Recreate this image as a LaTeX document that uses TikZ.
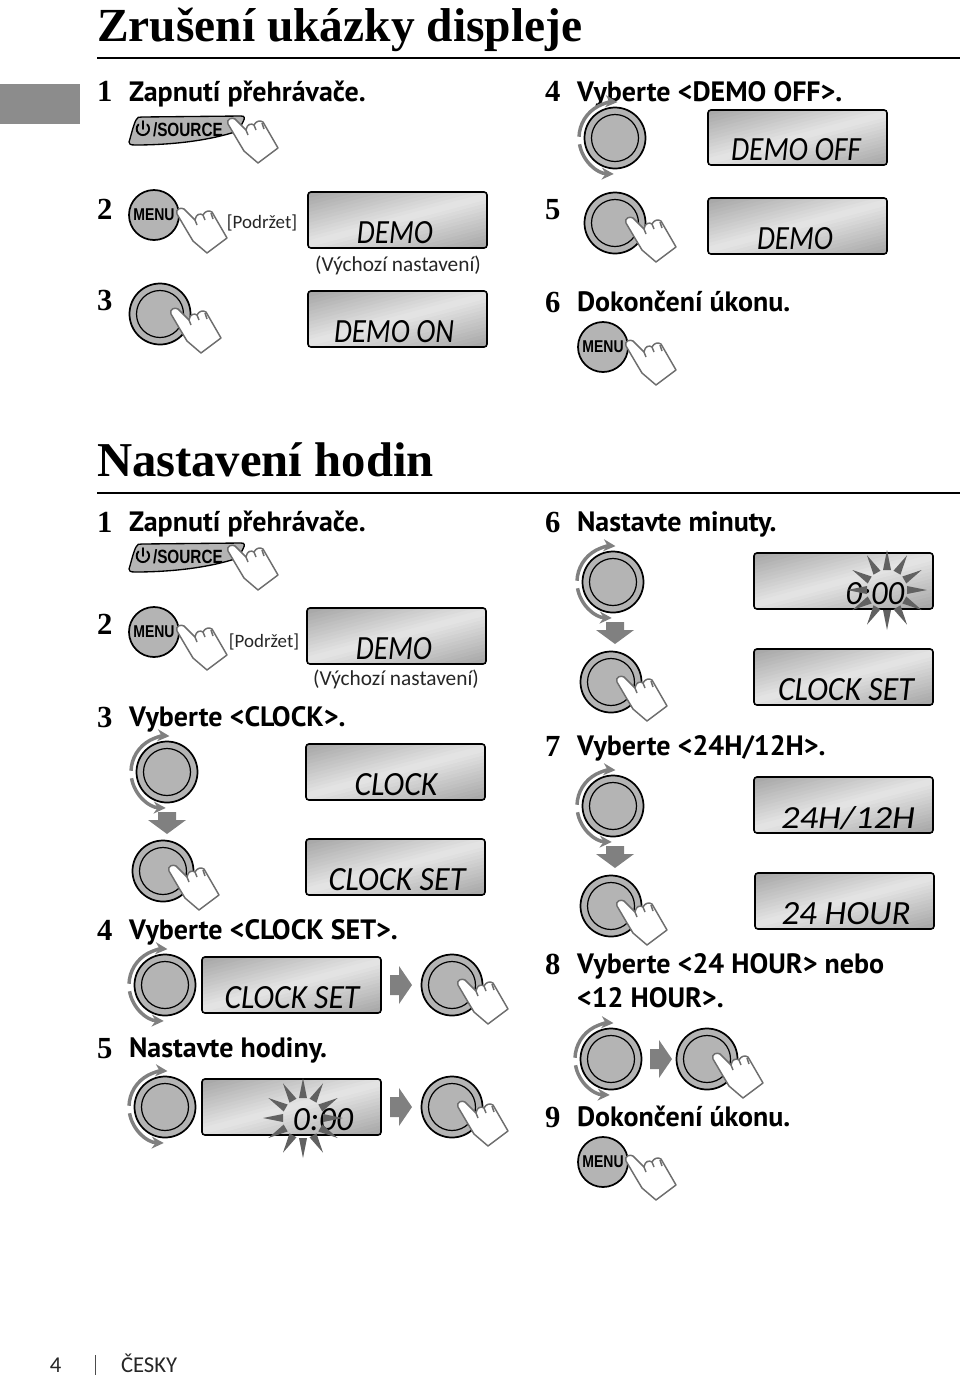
\documentclass[tikz,border=0pt]{standalone}
\usepackage{fontspec}
\usetikzlibrary{arrows.meta}
\setmainfont{Liberation Serif}
\newfontfamily\bodyfont{PT Sans}
\newfontfamily\lightfont{Carlito}
\newfontfamily\lcdfont{Carlito}
\newfontfamily\keyfont{Liberation Sans}
\definecolor{knobgray}{HTML}{B4B4B4}
\definecolor{arrgray}{HTML}{808080}
\definecolor{handgray}{HTML}{6E6E6E}
\tikzset{
  px/.style={x=.75pt,y=-.75pt},
  txt/.style={inner sep=0pt,outer sep=0pt},
  stepno/.style={txt,anchor=base west,font=\fontsize{23}{26}\selectfont\bfseries},
  body/.style={txt,anchor=base west,font=\bodyfont\fontsize{21}{24}\selectfont\bfseries},
  note/.style={txt,anchor=base,text=black!85,font=\lightfont\fontsize{16}{18}\selectfont},
  podr/.style={txt,anchor=base,text=black!85,font=\lightfont\fontsize{14.2}{18}\selectfont},
  head/.style={txt,anchor=base west,font=\fontsize{35.6}{42}\selectfont\bfseries},
  headb/.style={txt,anchor=base west,font=\fontsize{36.5}{42}\selectfont\bfseries},
  knob/.style={draw=black,line width=1.3pt,fill=knobgray},
  lcdedge/.style={draw=black,line width=1.2pt,rounded corners=2.2pt},
  hand/.style={draw=handgray,line width=1.1pt,fill=white,line join=round},
  block/.style={fill=arrgray,draw=none},
  rotarr/.style={draw=arrgray,line width=2.6pt,-{Stealth[length=9pt,width=9pt]}},
  spike/.style={fill=black!62,draw=none},
}
\newcommand{\lcdbg}[4]{%
  \begin{scope}
    \clip[rounded corners=2.2pt] (#1,#2) rectangle (#3,#4);
    \begin{scope}[shift={({(#1+#3)/2},{(#2+#4)/2})},rotate=105]
      \foreach \i in {-16,...,15}{
        \pgfmathsetmacro{\shadeval}{10+28*abs(\i+.5)/16}
        \fill[black!\shadeval] (\i*3.4,-300) rectangle (\i*3.4+3.9,300);}
      \fill[black!38] (54,-300) rectangle (120,300);
      \fill[black!38] (-54,-300) rectangle (-120,300);
    \end{scope}
  \end{scope}
  \draw[lcdedge] (#1,#2) rectangle (#3,#4);}
% display: name, x0,y0,x1,y1, cx, width, text
\newcommand{\lcd}[8]{%
  \lcdbg{#2}{#3}{#4}{#5}
  \node[txt,anchor=base] (#1) at (#6,#5-5)
    {\resizebox{\dimexpr #7pt*3/4\relax}{16.5pt}{\lcdfont\itshape #8}};}
\newcommand{\handat}[2]{%
  \begin{scope}[shift={(#1,#2)}]
    \draw[hand] (-3,4) .. controls (-5,-1) and (1,-3) .. (4,-1)
      -- (15,10) .. controls (16,4) and (20,3) .. (23,5)
      .. controls (25,1) and (29,0) .. (32,2)
      -- (47,28) -- (27,43) -- (13,31) -- (7,21) -- cycle;
    \draw[hand] (23,5) -- (25,10) (31,3) -- (33,9);
    \draw[hand] (15,10) -- (17,15);
  \end{scope}}
\newcommand{\plainknob}[2]{%
  \draw[knob] (#1,#2) circle[radius=30.5];
  \draw[draw=black,line width=.9pt] (#1,#2) circle[radius=23.5];}
\newcommand{\rotknob}[2]{%
  \plainknob{#1}{#2}
  \begin{scope}[shift={(#1,#2)}]
    \draw[rotarr] (182:36) arc[start angle=182,end angle=274,radius=36];
    \draw[rotarr] (170:36) arc[start angle=170,end angle=92,radius=36];
  \end{scope}}
\newcommand{\pressknob}[2]{%
  \plainknob{#1}{#2}
  \handat{#1+9}{#2-4}}
\newcommand{\pressknobw}[2]{%
  \plainknob{#1}{#2}
  \handat{#1+14}{#2-4}}
% name, x, y, hand
\newcommand{\menubtn}[3]{%
  \draw[knob] (#2,#3) circle[radius=25];
  \node[txt,font=\keyfont\fontsize{10.5}{12}\selectfont\bfseries] (#1) at (#2,#3) {\scalebox{1}[1.22]{MENU}};
  \handat{#2+26}{#3-5}}
\newcommand{\sourcebtn}[3]{%
  \begin{scope}[shift={(#2,#3)}]
    \draw[knob,line width=1pt] (129,142) .. controls (131,136) and (133,126) .. (136,120)
      .. controls (137,117) and (139,117) .. (142,117) -- (241,116)
      .. controls (245,116) and (245,118) .. (243,122) -- (238,131)
      .. controls (205,142) and (165,145) .. (135,145)
      .. controls (130,145) and (129,144) .. (129,142) -- cycle;
    \draw[line width=1.4pt,line cap=round] (138.5,124.5) arc[start angle=225,end angle=-45,radius=6.2];
    \draw[line width=1.4pt,line cap=round] (142.8,121) -- (142.8,129);
    \node[txt,anchor=base west,font=\keyfont\fontsize{12.5}{14}\selectfont\bfseries] (#1) at (153,136) {\scalebox{.92}[1.15]{/SOURCE}};
  \end{scope}
  \handat{231}{#3+120}}
\newcommand{\downarr}[2]{%
  \fill[block] (#1-9,#2) -- (#1+9,#2) -- (#1+9,#2+8) -- (#1+19,#2+8) -- (#1,#2+22)
    -- (#1-19,#2+8) -- (#1-9,#2+8) -- cycle;}
\newcommand{\rightarr}[2]{%
  \fill[block] (#1,#2-10) -- (#1+9,#2-10) -- (#1+9,#2-19) -- (#1+22,#2) -- (#1+9,#2+19)
    -- (#1+9,#2+10) -- (#1,#2+10) -- cycle;}
\newcommand{\burst}[2]{%
  \begin{scope}[shift={(#1,#2)}]
    \foreach \a in {0,30,...,330}{
      \fill[spike,rotate=\a] (20,-4) -- (40,0) -- (20,4) -- cycle;}
  \end{scope}}
\begin{document}
\begin{tikzpicture}[px]
\useasboundingbox (0,0) rectangle (960,1379);
\fill[black!45] (0,84) rectangle (80,124);

% --- Section 1
\node[head] (h1) at (97,41) {Zrušení ukázky displeje};
\draw[line width=2.2pt] (97,58) -- (960,58);
\node[stepno] (a1) at (97,101) {1};
\node[body] (a1t) at (129,101) {Zapnutí přehrávače.};
\sourcebtn{src1}{0}{0}
\node[stepno] (a2) at (97,219) {2};
\menubtn{menu1}{154}{215}
\node[podr] (pod1) at (262,228) {[Podržet]};
\lcd{d1}{308}{192}{487}{248}{395}{76}{DEMO}
\node[note] (def1) at (398,271) {(Výchozí nastavení)};
\node[stepno] (a3) at (97,310) {3};
\pressknobw{160}{314}
\lcd{d2}{308}{291}{487}{347}{394}{120}{DEMO ON}
\node[stepno] (a4) at (545,101) {4};
\node[body] (a4t) at (577,101) {Vyberte <DEMO OFF>.};
\rotknob{615}{138}
\lcd{d3}{708}{110}{887}{165}{796}{130}{DEMO OFF}
\node[stepno] (a5) at (545,219) {5};
\pressknobw{615}{223}
\lcd{d4}{708}{198}{887}{254}{795}{76}{DEMO}
\node[stepno] (a6) at (545,312) {6};
\node[body] (a6t) at (577,311) {Dokončení úkonu.};
\menubtn{menu2}{603}{347}

% --- Section 2
\node[headb] (h2) at (97,476) {Nastavení hodin};
\draw[line width=2.2pt] (97,493) -- (960,493);
\node[stepno] (b1) at (97,532) {1};
\node[body] (b1t) at (129,531) {Zapnutí přehrávače.};
\sourcebtn{src2}{0}{427}
\node[stepno] (b2) at (97,634) {2};
\menubtn{menu3}{154}{632}
\node[podr] (pod2) at (264,647) {[Podržet]};
\lcd{d5}{307}{608}{486}{664}{394}{76}{DEMO}
\node[note] (def2) at (396,685) {(Výchozí nastavení)};
\node[stepno] (b3) at (97,727) {3};
\node[body] (b3t) at (129,726) {Vyberte <CLOCK>.};
\rotknob{167}{772}
\lcd{d6}{306}{744}{485}{800}{396}{83}{CLOCK}
\downarr{167}{812}
\pressknob{163}{871}
\lcd{d7}{306}{839}{485}{895}{397}{137}{CLOCK SET}
\node[stepno] (b4) at (97,940) {4};
\node[body] (b4t) at (129,939) {Vyberte <CLOCK SET>.};
\rotknob{165}{985}
\lcd{d8}{202}{957}{381}{1013}{292}{135}{CLOCK SET}
\rightarr{390}{985}
\pressknob{452}{985}
\node[stepno] (b5) at (97,1058) {5};
\node[body] (b5t) at (129,1057) {Nastavte hodiny.};
\rotknob{165}{1107}
\lcdbg{202}{1079}{381}{1135}
\node[txt,anchor=base] (d9) at (323,1130) {\resizebox{45pt}{16.5pt}{\lcdfont\itshape 0:00}};
\burst{303}{1118}
\rightarr{390}{1107}
\pressknob{452}{1107}

\node[stepno] (c6) at (545,532) {6};
\node[body] (c6t) at (577,531) {Nastavte minuty.};
\rotknob{613}{582}
\lcdbg{754}{553}{933}{609}
\node[txt,anchor=base] (d10) at (875,604) {\resizebox{44pt}{16.5pt}{\lcdfont\itshape 0:00}};
\burst{887}{590}
\downarr{615}{622}
\pressknob{611}{682}
\lcd{d11}{754}{649}{933}{705}{846}{136}{CLOCK SET}
\node[stepno] (c7) at (545,756) {7};
\node[body] (c7t) at (577,755) {Vyberte <24H/12H>.};
\rotknob{613}{806}
\lcd{d12}{754}{777}{933}{833}{848}{134}{24H/12H}
\downarr{615}{846}
\pressknob{611}{906}
\lcd{d13}{755}{873}{934}{929}{846}{129}{24 HOUR}
\node[stepno] (c8) at (545,974) {8};
\node[body] (c8t) at (577,973) {Vyberte <24 HOUR> nebo};
\node[body] (c8u) at (577,1007) {<12 HOUR>.};
\rotknob{611}{1059}
\rightarr{650}{1059}
\pressknob{707}{1059}
\node[stepno] (c9) at (545,1127) {9};
\node[body] (c9t) at (577,1126) {Dokončení úkonu.};
\menubtn{menu4}{603}{1162}

% --- Footer
\node[txt,anchor=base west,text=black!85,font=\lightfont\fontsize{17}{20}\selectfont] (pg) at (50,1372) {4};
\draw[line width=.6pt,black!70] (95,1355) -- (95,1375);
\node[txt,anchor=base west,text=black!85,font=\lightfont\fontsize{17}{20}\selectfont] (lang) at (121,1372) {ČESKY};
\end{tikzpicture}
\end{document}
